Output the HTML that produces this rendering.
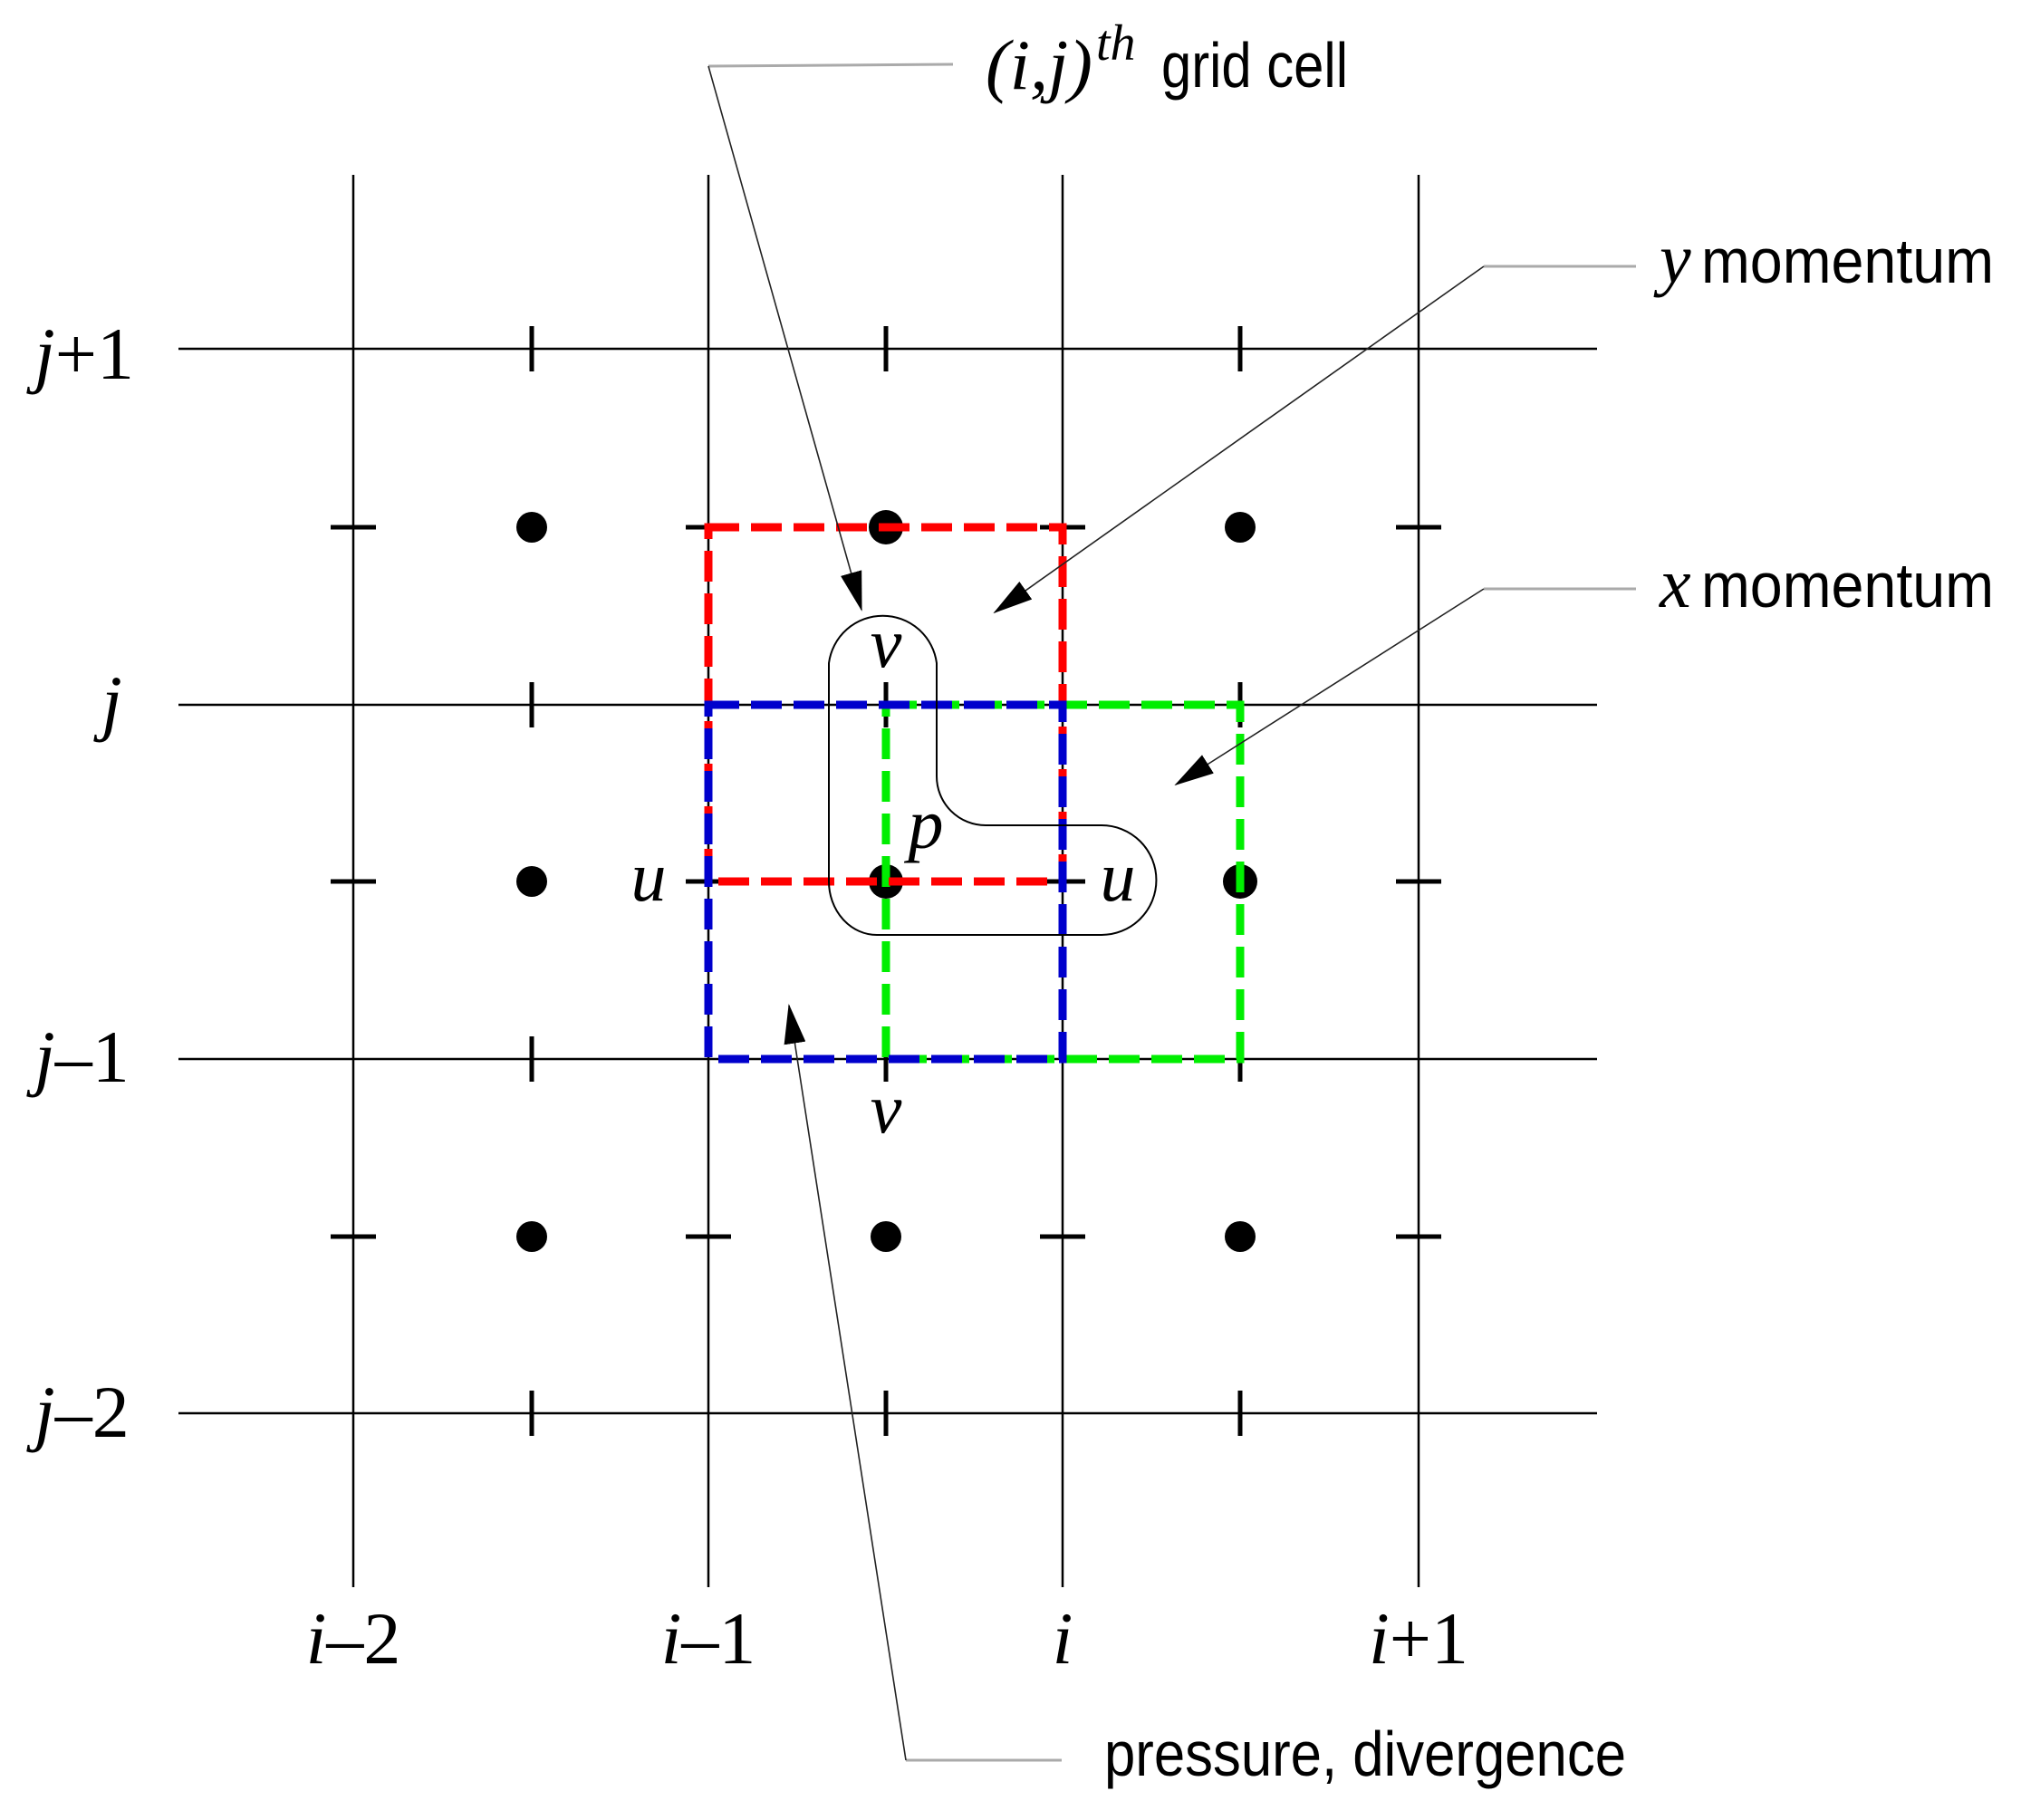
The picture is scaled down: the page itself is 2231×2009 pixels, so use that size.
<!DOCTYPE html>
<html><head><meta charset="utf-8"><style>html,body{margin:0;padding:0;background:#fff}svg{display:block}</style></head>
<body>
<svg width="2231" height="2009" viewBox="0 0 2231 2009" xmlns="http://www.w3.org/2000/svg">
<defs>
<marker id="ah" markerWidth="44" markerHeight="24" refX="42" refY="12" orient="auto" markerUnits="userSpaceOnUse">
<path d="M0,0 L44,12 L0,24 Z" fill="#000"/>
</marker>
</defs>
<g stroke="#000" stroke-width="2.5" fill="none">
<line x1="390" y1="193" x2="390" y2="1752"/>
<line x1="782" y1="193" x2="782" y2="1752"/>
<line x1="1173" y1="193" x2="1173" y2="1752"/>
<line x1="1566" y1="193" x2="1566" y2="1752"/>
<line x1="197" y1="385" x2="1763" y2="385"/>
<line x1="197" y1="778" x2="1763" y2="778"/>
<line x1="197" y1="1169" x2="1763" y2="1169"/>
<line x1="197" y1="1560" x2="1763" y2="1560"/>
</g>
<g stroke="#000" stroke-width="5">
<line x1="587" y1="360" x2="587" y2="410"/><line x1="978" y1="360" x2="978" y2="410"/><line x1="1369" y1="360" x2="1369" y2="410"/>
<line x1="587" y1="753" x2="587" y2="803"/><line x1="978" y1="753" x2="978" y2="803"/><line x1="1369" y1="753" x2="1369" y2="803"/>
<line x1="587" y1="1144" x2="587" y2="1194"/><line x1="978" y1="1144" x2="978" y2="1194"/><line x1="1369" y1="1144" x2="1369" y2="1194"/>
<line x1="587" y1="1535" x2="587" y2="1585"/><line x1="978" y1="1535" x2="978" y2="1585"/><line x1="1369" y1="1535" x2="1369" y2="1585"/>
<line x1="365" y1="582" x2="415" y2="582"/><line x1="757" y1="582" x2="807" y2="582"/><line x1="1148" y1="582" x2="1198" y2="582"/><line x1="1541" y1="582" x2="1591" y2="582"/>
<line x1="365" y1="973" x2="415" y2="973"/><line x1="757" y1="973" x2="807" y2="973"/><line x1="1148" y1="973" x2="1198" y2="973"/><line x1="1541" y1="973" x2="1591" y2="973"/>
<line x1="365" y1="1365" x2="415" y2="1365"/><line x1="757" y1="1365" x2="807" y2="1365"/><line x1="1148" y1="1365" x2="1198" y2="1365"/><line x1="1541" y1="1365" x2="1591" y2="1365"/>
</g>
<g fill="#000">
<circle cx="587" cy="582" r="17"/><circle cx="978" cy="582" r="19"/><circle cx="1369" cy="582" r="17"/>
<circle cx="587" cy="973" r="17"/><circle cx="978" cy="973" r="19"/><circle cx="1369" cy="973" r="19"/>
<circle cx="587" cy="1365" r="17"/><circle cx="978" cy="1365" r="17"/><circle cx="1369" cy="1365" r="17"/>
</g>
<g fill="none" stroke-width="9" stroke-dasharray="34,13">
<rect x="978" y="778" width="391" height="391" stroke="#00ee00"/>
<rect x="782" y="582" width="391" height="391" stroke="#ff0000"/>
<rect x="782" y="778" width="391" height="391" stroke="#0000cc"/>
</g>
<path d="M915,973 L915,732 A60,60 0 0 1 1034,732 L1034,857 A54,54 0 0 0 1088,911 L1216,911 A60,60 0 0 1 1216,1032 L968,1032 A53,59 0 0 1 915,973 Z" fill="none" stroke="#000" stroke-width="2"/>
<g font-family="Liberation Serif, serif" font-style="italic" font-size="78" fill="#000" text-anchor="middle">
<text x="978" y="736">v</text>
<text x="1022" y="936">p</text>
<text x="716" y="994">u</text>
<text x="1234" y="994">u</text>
<text x="978" y="1250">v</text>
</g>
<g font-family="Liberation Serif, serif" font-size="82" fill="#000">
<text x="38" y="418"><tspan font-style="italic">j</tspan>+1</text>
<text x="112" y="802" font-style="italic">j</text>
<text x="38" y="1194"><tspan font-style="italic">j</tspan>–1</text>
<text x="38" y="1586"><tspan font-style="italic">j</tspan>–2</text>
<g text-anchor="middle">
<text x="390" y="1836"><tspan font-style="italic">i</tspan>–2</text>
<text x="782" y="1836"><tspan font-style="italic">i</tspan>–1</text>
<text x="1173" y="1836" font-style="italic">i</text>
<text x="1566" y="1836"><tspan font-style="italic">i</tspan>+1</text>
</g>
<text x="1088" y="98" font-style="italic" font-size="78" textLength="118" lengthAdjust="spacingAndGlyphs">(i,j)</text>
<text x="1210" y="66" font-style="italic" font-size="56">th</text>
</g>
<g font-family="Liberation Sans Narrow, Liberation Sans, sans-serif" font-size="70" fill="#000">
<text x="1282" y="96" textLength="206" lengthAdjust="spacingAndGlyphs">grid cell</text>
<text x="1832" y="312"><tspan font-family="Liberation Serif, serif" font-style="italic" font-size="78">y</tspan><tspan textLength="323" lengthAdjust="spacingAndGlyphs" x="1878">momentum</tspan></text>
<text x="1832" y="670"><tspan font-family="Liberation Serif, serif" font-style="italic" font-size="78">x</tspan><tspan textLength="323" lengthAdjust="spacingAndGlyphs" x="1878">momentum</tspan></text>
<text x="1219" y="1960" textLength="576" lengthAdjust="spacingAndGlyphs">pressure, divergence</text>
</g>
<g fill="none" stroke="#aaa" stroke-width="3">
<line x1="1052" y1="71" x2="782" y2="73"/>
<line x1="1806" y1="294" x2="1638" y2="294"/>
<line x1="1806" y1="650" x2="1638" y2="650"/>
<line x1="1172" y1="1943" x2="1000" y2="1943"/>
</g>
<g fill="none" stroke="#222" stroke-width="1.6">
<line x1="782" y1="73" x2="951" y2="673" marker-end="url(#ah)"/>
<line x1="1638" y1="294" x2="1098" y2="676" marker-end="url(#ah)"/>
<line x1="1638" y1="650" x2="1298" y2="866" marker-end="url(#ah)"/>
<line x1="1000" y1="1943" x2="871" y2="1110" marker-end="url(#ah)"/>
</g>
</svg>
</body></html>
